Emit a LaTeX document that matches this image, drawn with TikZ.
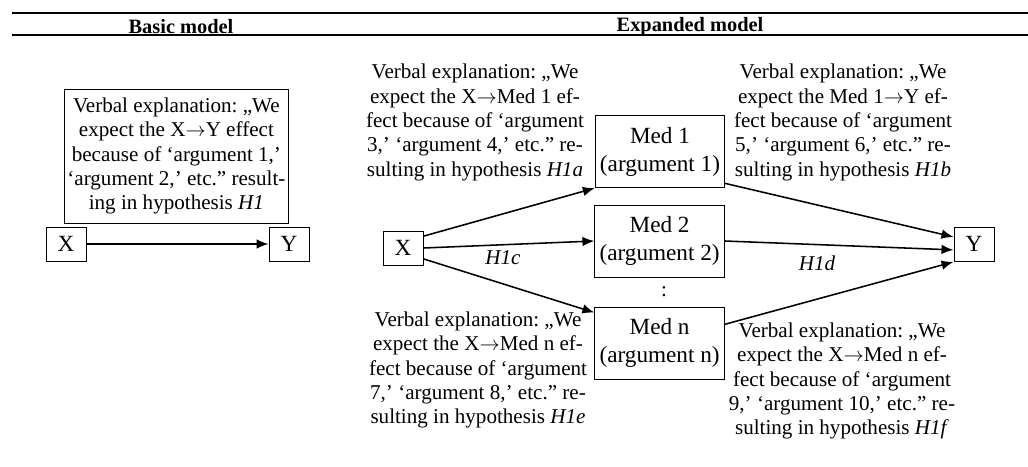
\documentclass[tikz,border=0pt]{standalone}
\usepackage{fontspec}
\setmainfont{Liberation Serif}
\usetikzlibrary{arrows.meta}
\newcommand{\eff}{\ensuremath{\rightarrow}}

\begin{document}
\frenchspacing
\begin{tikzpicture}[>={Latex[length=3mm,width=2.4mm]},
  every node/.style={font=\fontsize{15}{17.3}\selectfont},
  big/.style={font=\fontsize{16.5}{20}\selectfont},
  var/.style={draw, big, line width=0.7pt, minimum width=1.0cm, minimum height=0.85cm, inner sep=0pt},
  med/.style={draw, big, line width=0.7pt, minimum width=3.15cm, minimum height=1.8cm, align=center},
  expl/.style={align=center, inner sep=0pt},
  head/.style={font=\fontsize{14.5}{17}\selectfont\bfseries},
  hyp/.style={font=\fontsize{15}{17.3}\selectfont\itshape},
  link/.style={->, line width=1.1pt}]
  \useasboundingbox (0,0) rectangle (25.7,11.65);
  % Table rules and headings
  \draw[line width=2pt] (0.3,11.325) -- (25.7,11.325);
  \draw[line width=1.4pt] (0.3,10.775) -- (25.7,10.775);
  \node[head] (basichead) at (4.525,10.99) {Basic model};
  \node[head] (exphead) at (17.25,10.99) {Expanded model};
  % Basic model
  \node[draw, line width=0.7pt, align=center, inner sep=2pt, minimum width=5.33cm, minimum height=3.35cm] (basicbox) at (4.41,7.75)
    {Verbal explanation: „We\\ expect the X\eff Y effect\\ because of ‘argument 1,’\\ ‘argument 2,’ etc.” result-\\ ing in hypothesis \textit{H1}};
  \node[var] (bx) at (1.65,5.55) {X};
  \node[var] (by) at (7.225,5.55) {Y};
  \draw[link] (bx) -- (by);
  % Expanded model
  \node[var] (x) at (10.075,5.45) {X};
  \node[var] (y) at (24.35,5.54) {Y};
  \node[med] (med1) at (16.5,7.86) {Med 1\\ (argument 1)};
  \node[med] (med2) at (16.49,5.625) {Med 2\\ (argument 2)};
  \node[med] (medn) at (16.49,3.075) {Med n\\ (argument n)};
  \node (dots) at (16.6,4.35) {:};
  % Paths into and out of the mediators
  \draw[link] (x.30) -- (med1.south west);
  \draw[link] (x.east) -- (med2.west);
  \draw[link] (x.-28) -- (medn.155);
  \draw[link] (med1.-26) -- (y.160);
  \draw[link] (med2.east) -- (y.195);
  \draw[link] (medn.16) -- (y.south west);
  \node[hyp] (h1c) at (12.575,5.2) {H1c};
  \node[hyp] (h1d) at (20.425,5.075) {H1d};
  % Verbal explanations
  \node[expl] (expa) at (11.875,8.59)
    {Verbal explanation: „We\\ expect the X\eff Med 1 ef-\\ fect because of ‘argument\\ 3,’ ‘argument 4,’ etc.” re-\\ sulting in hypothesis \textit{H1a}};
  \node[expl] (expb) at (21.075,8.59)
    {Verbal explanation: „We\\ expect the Med 1\eff Y ef-\\ fect because of ‘argument\\ 5,’ ‘argument 6,’ etc.” re-\\ sulting in hypothesis \textit{H1b}};
  \node[expl] (expe) at (11.95,2.4)
    {Verbal explanation: „We\\ expect the X\eff Med n ef-\\ fect because of ‘argument\\ 7,’ ‘argument 8,’ etc.” re-\\ sulting in hypothesis \textit{H1e}};
  \node[expl] (expf) at (21.05,2.125)
    {Verbal explanation: „We\\ expect the X\eff Med n ef-\\ fect because of ‘argument\\ 9,’ ‘argument 10,’ etc.” re-\\ sulting in hypothesis \textit{H1f}};
\end{tikzpicture}
\end{document}
